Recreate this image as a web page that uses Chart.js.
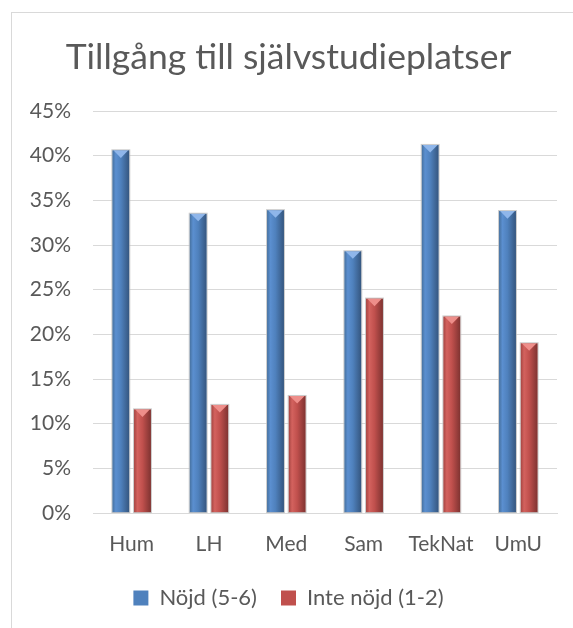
<!DOCTYPE html>
<html>
<head>
<meta charset="utf-8">
<script src="https://cdn.jsdelivr.net/npm/chart.js@4"></script>
<style>
  html, body { margin: 0; padding: 0; background: #fff; }
  #wrap { position: relative; width: 573px; height: 628px; overflow: hidden; }
  #frame { position: absolute; left: 11px; top: 12px; width: 620px; height: 660px; border: 1px solid #d9d9d9; }
  #chart { position: absolute; left: 0; top: 0; }
</style>
</head>
<body>
<div id="wrap">
  <div id="frame"></div>
  <canvas id="chart" width="573" height="628"></canvas>
</div>
<script>
"use strict";

// Data
const categories = ['Hum', 'LH', 'Med', 'Sam', 'TekNat', 'UmU'];
const nojd      = [40.6, 33.5, 33.9, 29.3, 41.2, 33.8];
const inteNojd  = [11.6, 12.1, 13.1, 24.0, 22.0, 19.0];
const seriesNames = ['Nöjd (5-6)', 'Inte nöjd (1-2)'];
const yTicks = [0, 5, 10, 15, 20, 25, 30, 35, 40, 45];

const FONT = "Lato, 'Open Sans', sans-serif";
const TEXT = '#595959';

// shading for each series: left, highlight, mid, right, top facet
const _shades = [
  ['#46719f', '#5b8fd0', '#4f81bd', '#35567f', '#8fb6ea'],
  ['#a64542', '#d3625e', '#c0504d', '#7f3331', '#ee8e8a']
];

// Cylinder-like bevel drawn over each bar
const bevelPlugin = {
  id: 'bevel',
  afterDatasetsDraw(chart) {
    const ctx = chart.ctx;
    chart.data.datasets.forEach(function(_ds, _i) {
      const meta = chart.getDatasetMeta(_i);
      const sh = _shades[_i];
      meta.data.forEach(function(bar) {
        const w = bar.width;
        const left = bar.x - w / 2;
        const right = bar.x + w / 2;
        const top = bar.y;
        const bottom = bar.base;
        const g = ctx.createLinearGradient(left, 0, right, 0);
        g.addColorStop(0, sh[0]);
        g.addColorStop(0.2, sh[1]);
        g.addColorStop(0.5, sh[2]);
        g.addColorStop(1, sh[3]);
        ctx.save();
        ctx.fillStyle = g;
        ctx.fillRect(left, top, w, bottom - top);
        // top facet
        const th = Math.min(w * 0.45, (bottom - top) / 2);
        ctx.beginPath();
        ctx.moveTo(left + 1, top);
        ctx.lineTo(right - 1, top);
        ctx.lineTo(bar.x, top + th);
        ctx.closePath();
        ctx.fillStyle = sh[4];
        ctx.fill();
        // thin light outline
        ctx.strokeStyle = 'rgba(190,190,190,0.8)';
        ctx.lineWidth = 1;
        ctx.strokeRect(left - 0.5, top - 0.5, w + 1, bottom - top + 0.5);
        ctx.restore();
      });
    });
  }
};

new Chart(document.getElementById('chart'), {
  type: 'bar',
  data: {
    labels: categories,
    datasets: [
      { label: seriesNames[0], data: nojd, backgroundColor: '#4f81bd', borderWidth: 0,
        categoryPercentage: 0.56, barPercentage: 0.78 },
      { label: seriesNames[1], data: inteNojd, backgroundColor: '#c0504d', borderWidth: 0,
        categoryPercentage: 0.56, barPercentage: 0.78 }
    ]
  },
  options: {
    responsive: false,
    animation: false,
    layout: { padding: { left: 20, right: 16, top: 10, bottom: 9 } },
    plugins: {
      title: {
        display: true,
        text: 'Tillgång till självstudieplatser',
        color: TEXT,
        font: { family: FONT, size: 35.5, weight: 'normal', lineHeight: 1.2 },
        padding: { top: 26, bottom: 32.4 }
      },
      legend: {
        position: 'bottom',
        labels: {
          color: TEXT,
          font: { family: FONT, size: 22 },
          boxWidth: 15,
          boxHeight: 15,
          padding: 24
        }
      },
      tooltip: { enabled: false }
    },
    scales: {
      x: {
        grid: { display: false, drawTicks: false },
        border: { color: '#d9d9d9' },
        ticks: { color: TEXT, font: { family: FONT, size: 21, lineHeight: 1.2 }, padding: 18.4 },
        afterFit(scale) { scale.height = 50; }
      },
      y: {
        min: 0,
        max: 45,
        afterBuildTicks(scale) {
          scale.ticks = yTicks.map(function(v) { return { value: v }; });
        },
        afterFit(scale) { scale.width = 73; },
        grid: { color: '#d9d9d9', drawTicks: false },
        border: { display: false },
        ticks: {
          color: TEXT,
          font: { family: FONT, size: 21 },
          padding: 22,
          callback: function(v) { return v + '%'; }
        }
      }
    }
  },
  plugins: [bevelPlugin]
});
</script>
</body>
</html>
